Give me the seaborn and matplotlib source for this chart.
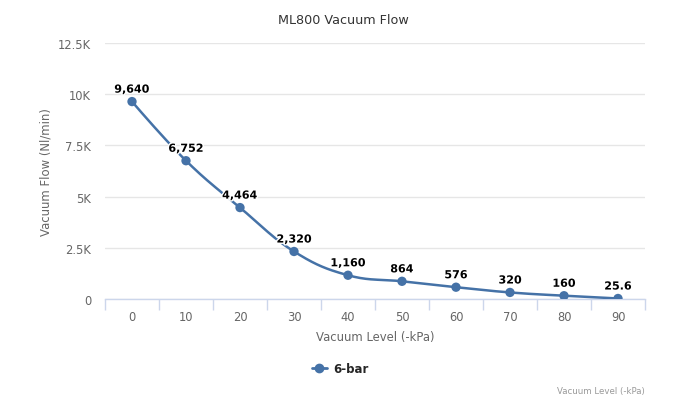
import numpy as np
import pandas as pd
import matplotlib
matplotlib.use("Agg")
import matplotlib.pyplot as plt
import matplotlib.patheffects as pe
import seaborn as sns

# data
levels = [0, 10, 20, 30, 40, 50, 60, 70, 80, 90]
flow = [9640, 6752, 4464, 2320, 1160, 864, 576, 320, 160, 25.6]
flow_labels = ["9,640", "6,752", "4,464", "2,320", "1,160", "864", "576", "320", "160", "25.6"]
yticks = [0, 2500, 5000, 7500, 10000, 12500]
ytick_labels = ["0", "2.5K", "5K", "7.5K", "10K", "12.5K"]
series_name = "6-bar"

color = "#4572A7"
sns.set_style("white")
plt.rcParams["font.family"] = ["DejaVu Sans"]

df = pd.DataFrame({"x": np.arange(len(levels)), "y": flow})


def spline_path(xs, ys, smoothing=1.5, n=30):
    # highcharts-like spline through the points (cubic bezier segments)
    xs = np.asarray(xs, float)
    ys = np.asarray(ys, float)
    k = len(xs)
    lc = [(xs[i], ys[i]) for i in range(k)]
    rc = [(xs[i], ys[i]) for i in range(k)]
    d = smoothing + 1
    for i in range(1, k - 1):
        px, py = xs[i], ys[i]
        lx = (smoothing * px + xs[i - 1]) / d
        ly = (smoothing * py + ys[i - 1]) / d
        rx = (smoothing * px + xs[i + 1]) / d
        ry = (smoothing * py + ys[i + 1]) / d
        corr = (ry - ly) * (rx - px) / (rx - lx) + py - ry
        ly += corr
        ry += corr
        if ly > ys[i - 1] and ly > py:
            ly = max(ys[i - 1], py)
            ry = 2 * py - ly
        elif ly < ys[i - 1] and ly < py:
            ly = min(ys[i - 1], py)
            ry = 2 * py - ly
        if ry > ys[i + 1] and ry > py:
            ry = max(ys[i + 1], py)
            ly = 2 * py - ry
        elif ry < ys[i + 1] and ry < py:
            ry = min(ys[i + 1], py)
            ly = 2 * py - ry
        lc[i] = (lx, ly)
        rc[i] = (rx, ry)
    t = np.linspace(0, 1, n)[:, None]
    out = []
    for i in range(1, k):
        p0 = np.array([xs[i - 1], ys[i - 1]])
        p1 = np.array(rc[i - 1])
        p2 = np.array(lc[i])
        p3 = np.array([xs[i], ys[i]])
        seg = ((1 - t) ** 3) * p0 + 3 * ((1 - t) ** 2) * t * p1 + 3 * (1 - t) * t ** 2 * p2 + t ** 3 * p3
        out.append(seg if i == 1 else seg[1:])
    return np.vstack(out)


curve = spline_path(df["x"], df["y"])
curve_df = pd.DataFrame({"x": curve[:, 0], "y": curve[:, 1]})

fig = plt.figure(figsize=(6.78, 4.02), dpi=100)
ax = fig.add_axes([105 / 678, 1 - 300 / 402, 540 / 678, 256 / 402])

sns.lineplot(data=curve_df, x="x", y="y", sort=False, color=color, linewidth=1.8, ax=ax, zorder=3)
sns.scatterplot(data=df, x="x", y="y", color=color, s=45, edgecolor="none", ax=ax, zorder=4)

for xi, yi, lab in zip(df["x"], df["y"], flow_labels):
    ax.annotate(lab, (xi, yi), xytext=(0, 5), textcoords="offset points", ha="center", va="bottom",
                fontsize=8, fontweight="bold", color="black", zorder=5,
                path_effects=[pe.withStroke(linewidth=2, foreground="white")])

ax.set_xlim(-0.5, len(levels) - 0.5)
ax.set_ylim(0, 12500)
ax.set_yticks(yticks)
ax.set_yticklabels(ytick_labels)
ax.set_xticks(df["x"])
ax.set_xticklabels([str(v) for v in levels])
ax.set_xticks(np.arange(len(levels) + 1) - 0.5, minor=True)
ax.tick_params(axis="x", which="major", bottom=False, length=0, pad=8, labelsize=8.3, labelcolor="#666666")
ax.tick_params(axis="x", which="minor", bottom=True, length=8, width=1, color="#ccd6eb", direction="out")
ax.tick_params(axis="y", left=False, length=0, pad=10, labelsize=8.3, labelcolor="#666666")
ax.grid(axis="y", color="#e6e6e6", linewidth=1)
ax.set_axisbelow(True)
for s in ["top", "right", "left"]:
    ax.spines[s].set_visible(False)
ax.spines["bottom"].set_color("#ccd6eb")
ax.spines["bottom"].set_linewidth(1)

ax.set_xlabel("Vacuum Level (-kPa)", fontsize=8.4, color="#666666", labelpad=5)
ax.set_ylabel("Vacuum Flow (Nl/min)", fontsize=8.4, color="#666666", labelpad=4)

fig.text(343 / 678, 1 - 20 / 402, "ML800 Vacuum Flow", ha="center", va="center", fontsize=9.2, color="#333333")

handle = plt.Line2D([], [], color=color, linewidth=2, marker="o", markersize=6)
fig.legend([handle], [series_name], loc="center", bbox_to_anchor=(340 / 678, 1 - 370 / 402),
           frameon=False, handlelength=1.3, handletextpad=0.5,
           prop={"weight": "bold", "size": 8.5})
fig.text(645 / 678, 1 - 392 / 402, "Vacuum Level (-kPa)", ha="right", va="center", fontsize=6.2, color="#999999")

fig.savefig("out.png", dpi=100)
